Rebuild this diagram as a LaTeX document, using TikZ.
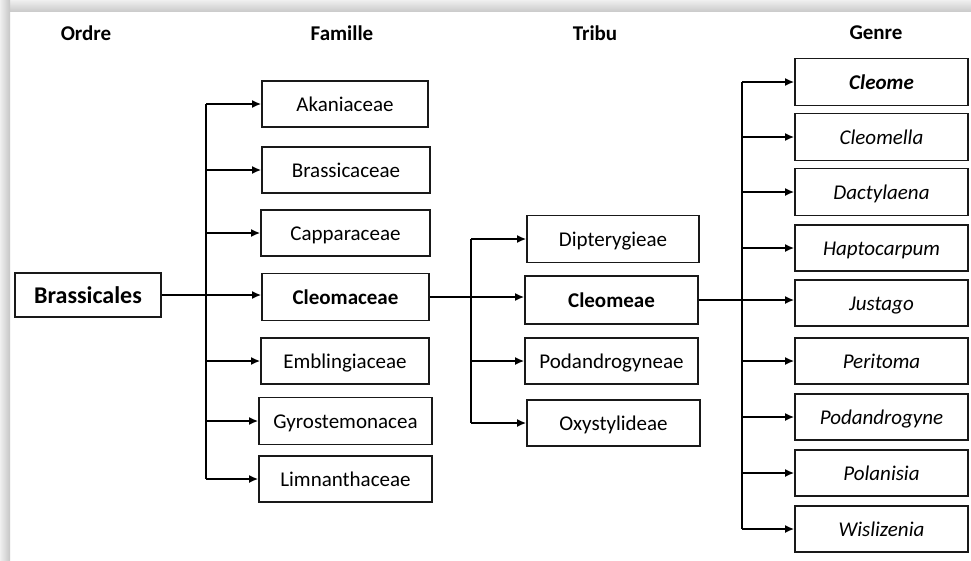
\documentclass[tikz,border=0pt]{standalone}
\usepackage{fontspec}
\setmainfont{Carlito}
\usetikzlibrary{arrows.meta}
\begin{document}
\begin{tikzpicture}[x=1pt,y=-1pt,
 box/.style={draw=black!90, line width=1.6pt, inner sep=0pt, fill=white,
   text height=16pt, text depth=1pt,
   minimum height=46pt, font=\fontsize{21}{25}\selectfont},
 fbox/.style={box, minimum width=168pt},
 tbox/.style={box, minimum width=173pt},
 gbox/.style={box, minimum width=173pt, font=\fontsize{21}{25}\selectfont\itshape},
 hdr/.style={font=\fontsize{21}{25}\selectfont\bfseries, inner sep=0pt},
 conn/.style={line width=2pt, draw=black},
 arr/.style={conn, -{Latex[length=9pt,width=8pt]}}]

\useasboundingbox (0,0) rectangle (971,560);
\fill[white] (0,0) rectangle (971,560);
% screenshot shadow
\shade[top color=gray!12, bottom color=gray!40] (0,0) rectangle (971,11);
\shade[left color=gray!12, right color=gray!45] (0,0) rectangle (10,560);

% headers
\node[hdr] (hOrdre) at (86,33) {Ordre};
\node[hdr] (hFam) at (342,33) {Famille};
\node[hdr] (hTri) at (595,33) {Tribu};
\node[hdr] (hGen) at (876,33) {Genre};

% order
\node[box, minimum width=146pt, minimum height=44pt, text height=18pt, text depth=1pt, font=\fontsize{24}{28}\selectfont\bfseries] (bras) at (88,295) {Brassicales};

% families
\node[fbox, minimum width=166pt] (aka) at (345,104) {Akaniaceae};
\node[fbox] (bra) at (346,170) {Brassicaceae};
\node[fbox, minimum width=169pt] (cap) at (345.5,233) {Capparaceae};
\node[fbox, minimum width=167pt, minimum height=47pt, font=\fontsize{21}{25}\selectfont\bfseries] (cle) at (345.5,297) {Cleomaceae};
\node[fbox] (emb) at (345,361) {Emblingiaceae};
\node[fbox, minimum width=173pt, minimum height=47pt] (gyr) at (345.5,421) {Gyrostemonacea};
\node[fbox, minimum width=173pt] (lim) at (345.5,479) {Limnanthaceae};

% tribes
\node[tbox, minimum width=172pt, minimum height=47pt] (dip) at (613,239) {Dipterygieae};
\node[tbox, minimum height=48pt, font=\fontsize{21}{25}\selectfont\bfseries] (cme) at (611.5,300) {Cleomeae};
\node[tbox] (pod) at (611.5,361) {Podandrogyneae};
\node[tbox] (oxy) at (613.5,423) {Oxystylideae};

% genera
\node[gbox, minimum height=47pt, font=\fontsize{21}{25}\selectfont\bfseries\itshape] (g1) at (881.5,82) {Cleome};
\node[gbox, minimum height=47pt] (g2) at (881.5,137) {Cleomella};
\node[gbox, minimum height=47pt] (g3) at (881.5,192) {Dactylaena};
\node[gbox] (g4) at (881.5,248) {Haptocarpum};
\node[gbox] (g5) at (881.5,303) {Justago};
\node[gbox] (g6) at (881.5,361) {Peritoma};
\node[gbox] (g7) at (881.5,417) {Podandrogyne};
\node[gbox] (g8) at (881.5,473) {Polanisia};
\node[gbox] (g9) at (881.5,529) {Wislizenia};

% spines
\coordinate (sF) at (206,0);
\coordinate (sT) at (471,0);
\coordinate (sG) at (742,0);

\draw[conn] (sF |- aka.west) -- (sF |- lim.west);
\foreach \n in {aka,bra,cap,emb,gyr,lim} \draw[arr] (sF |- \n.west) -- (\n.west);
\draw[arr] (bras.east) -- (bras.east -| cle.west);

\draw[conn] (sT |- dip.west) -- (sT |- oxy.west);
\foreach \n in {dip,pod,oxy} \draw[arr] (sT |- \n.west) -- (\n.west);
\draw[arr] (cle.east) -- (cle.east -| cme.west);

\draw[conn] (sG |- g1.west) -- (sG |- g9.west);
\foreach \n in {g1,g2,g3,g4,g6,g7,g8,g9} \draw[arr] (sG |- \n.west) -- (\n.west);
\draw[arr] (cme.east) -- (cme.east -| g5.west);
\end{tikzpicture}
\end{document}
